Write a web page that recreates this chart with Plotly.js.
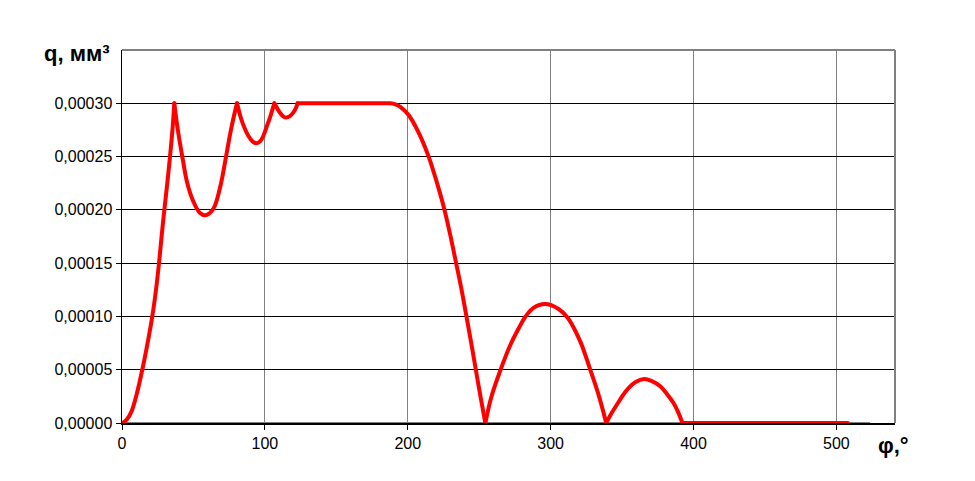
<!DOCTYPE html>
<html>
<head>
<meta charset="utf-8">
<script src="https://cdn.plot.ly/plotly-3.0.1.min.js"></script>
<style>
html,body{margin:0;padding:0;background:#fff;}
#chart{width:975px;height:481px;}
.scatterlayer path.js-line{stroke-linecap:round !important;stroke-linejoin:round !important;}
</style>
</head>
<body>
<div id="chart"></div>
<script>
// angle phi (degrees)
const phi = [0, 1, 3.5, 6.7, 10.2, 14.2, 17.9, 21.2, 23.8, 25.9, 27.7, 29.6, 31.7, 33.6, 35.4, 36.6,
  38.9, 42.2, 45.7, 49.9, 54.6, 58.4, 63.9, 68.8, 72.3, 75.8, 78.5, 80.5,
  84, 88.6, 91.5, 94, 96.8, 99.1, 101.5, 103.8, 105.5, 106.6,
  110.8, 113, 115, 117.5, 119.7, 121.5, 122.9,
  140, 160, 180, 187.8, 191.3, 195, 200.6, 207.6, 214.6, 220.4, 225.8, 229.8, 233.7, 237.5, 241, 244.5, 247.7, 251, 254.3,
  258.4, 264.7, 271.7, 278.7, 282.2, 288, 296.2, 305.5, 311.8, 320.7, 327.7, 333.5, 338.9,
  343, 347.1, 350.8, 354.5, 359.5, 365.3, 370.5, 376.7, 381.5, 386, 389.3, 392.2,
  420, 460, 508];
// q (units of 1e-5 mm^3)
const q5 = [0, 0.05, 0.35, 1.09, 2.66, 5.0, 7.5, 10.0, 12.5, 15.0, 17.5, 19.94, 22.5, 25.0, 27.66, 30.0,
  27.66, 25.0, 22.5, 20.8, 19.7, 19.5, 20.1, 22.2, 24.6, 27.2, 28.9, 30.0,
  28.3, 26.9, 26.4, 26.25, 26.45, 27.0, 27.9, 28.75, 29.5, 30.0,
  29.06, 28.75, 28.66, 28.8, 29.1, 29.5, 30.0,
  30.0, 30.0, 30.0, 30.0, 29.9, 29.65, 28.9, 27.25, 25.0, 22.55, 19.95, 17.6, 15.1, 12.6, 10.05, 7.45, 4.95, 2.4, 0,
  2.4, 4.9, 7.3, 9.15, 9.95, 10.8, 11.16, 10.7, 9.9, 7.66, 5.0, 2.66, 0,
  1.0, 1.875, 2.65, 3.28, 3.85, 4.12, 3.95, 3.44, 2.7, 1.875, 1.0, 0,
  0, 0, 0];
// angles where the curve has a sharp corner
const cusps = [36.6, 80.5, 106.6, 122.9, 254.3, 338.9, 392.2];
// grey companion series along zero
const phiZero = [0, 523];
const qZero = [0, 0];
const yTicks = [0, 0.00005, 0.0001, 0.00015, 0.0002, 0.00025, 0.0003];
const xTicks = [0, 100, 200, 300, 400, 500];

const q = q5.map(v => v * 1e-5);
const font = "Liberation Sans, Arial, sans-serif";
const traces = [
  {x: phiZero, y: qZero, mode: 'lines', line: {color: '#808080', width: 2}, hoverinfo: 'skip'}
];
const breaks = [0].concat(cusps.map(c => phi.indexOf(c)), [phi.length - 1]);
for (let s = 0; s < breaks.length - 1; s++) {
  const a = breaks[s], b = breaks[s + 1];
  traces.push({
    x: phi.slice(a, b + 1), y: q.slice(a, b + 1), mode: 'lines',
    line: {color: '#FF0000', width: 4, shape: 'spline', smoothing: 1}
  });
}
const layout = {
  width: 975, height: 481,
  margin: {l: 122, r: 80, t: 50, b: 58},
  paper_bgcolor: '#fff', plot_bgcolor: '#fff',
  showlegend: false,
  separators: ',.',
  font: {family: font, size: 16, color: '#000'},
  xaxis: {
    range: [0, 541], tickvals: xTicks, ticktext: xTicks.map(String),
    showgrid: true, gridcolor: '#808080', gridwidth: 1,
    showline: true, linecolor: '#000', linewidth: 1.5,
    ticks: 'outside', ticklen: 5, tickcolor: '#000', tickwidth: 1,
    zeroline: false, tickfont: {family: font, size: 16, color: '#000'}
  },
  yaxis: {
    range: [0, 0.00035], tickvals: yTicks, tickformat: '.5f',
    showgrid: true, gridcolor: '#000', gridwidth: 1,
    showline: true, linecolor: '#000', linewidth: 1.5,
    ticks: 'outside', ticklen: 5, tickcolor: '#000', tickwidth: 1,
    zeroline: false, tickfont: {family: font, size: 16, color: '#000'}
  },
  shapes: [
    {type: 'line', xref: 'paper', yref: 'paper', x0: 0, x1: 1, y0: 1, y1: 1, line: {color: '#808080', width: 2}},
    {type: 'line', xref: 'paper', yref: 'paper', x0: 1, x1: 1, y0: 0, y1: 1, line: {color: '#808080', width: 2}}
  ],
  annotations: [
    {text: '<b>q, мм³</b>', xref: 'paper', yref: 'paper', x: -0.103, y: 0.99, xanchor: 'left', yanchor: 'middle',
     showarrow: false, font: {family: font, size: 22, color: '#000'}},
    {text: '<b>φ,°</b>', xref: 'paper', yref: 'paper', x: 0.975, y: -0.06, xanchor: 'left', yanchor: 'middle',
     showarrow: false, font: {family: font, size: 22, color: '#000'}}
  ]
};
Plotly.newPlot('chart', traces, layout, {displayModeBar: false, staticPlot: true});
</script>
</body>
</html>
